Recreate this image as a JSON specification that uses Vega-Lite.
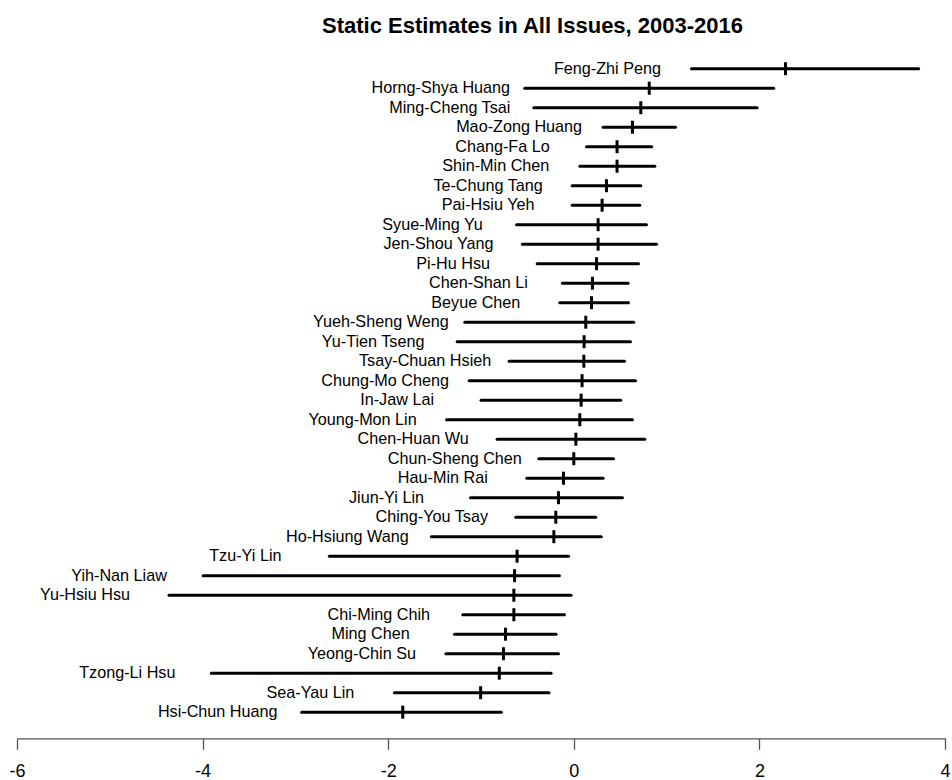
{
  "$schema": "https://vega.github.io/schema/vega-lite/v6.json",
  "autosize": "none",
  "width": 928,
  "height": 682.5,
  "padding": {"left": 17, "top": 49.2, "right": 7, "bottom": 48.3},
  "background": "white",
  "title": {
    "text": "Static Estimates in All Issues, 2003-2016",
    "font": "Liberation Sans",
    "fontSize": 22,
    "fontWeight": "bold",
    "color": "black",
    "anchor": "middle",
    "dx": 51.5,
    "dy": 15.6,
    "offset": 10,
    "baseline": "alphabetic"
  },
  "config": {"view": {"stroke": null}, "font": "Liberation Sans"},
  "data": {
    "values": [
      {"name": "Feng-Zhi Peng", "lower": 1.268, "est": 2.281, "upper": 3.716},
      {"name": "Horng-Shya Huang", "lower": -0.528, "est": 0.813, "upper": 2.154},
      {"name": "Ming-Cheng Tsai", "lower": -0.431, "est": 0.722, "upper": 1.975},
      {"name": "Mao-Zong Huang", "lower": 0.316, "est": 0.632, "upper": 1.096},
      {"name": "Chang-Fa Lo", "lower": 0.137, "est": 0.466, "upper": 0.840},
      {"name": "Shin-Min Chen", "lower": 0.065, "est": 0.466, "upper": 0.873},
      {"name": "Te-Chung Tang", "lower": -0.018, "est": 0.352, "upper": 0.722},
      {"name": "Pai-Hsiu Yeh", "lower": -0.018, "est": 0.305, "upper": 0.711},
      {"name": "Syue-Ming Yu", "lower": -0.617, "est": 0.262, "upper": 0.783},
      {"name": "Jen-Shou Yang", "lower": -0.553, "est": 0.262, "upper": 0.891},
      {"name": "Pi-Hu Hsu", "lower": -0.395, "est": 0.245, "upper": 0.697},
      {"name": "Chen-Shan Li", "lower": -0.122, "est": 0.201, "upper": 0.585},
      {"name": "Beyue Chen", "lower": -0.151, "est": 0.191, "upper": 0.589},
      {"name": "Yueh-Sheng Weng", "lower": -1.174, "est": 0.129, "upper": 0.646},
      {"name": "Yu-Tien Tseng", "lower": -1.257, "est": 0.111, "upper": 0.611},
      {"name": "Tsay-Chuan Hsieh", "lower": -0.697, "est": 0.108, "upper": 0.546},
      {"name": "Chung-Mo Cheng", "lower": -1.128, "est": 0.089, "upper": 0.665},
      {"name": "In-Jaw Lai", "lower": -0.999, "est": 0.079, "upper": 0.506},
      {"name": "Young-Mon Lin", "lower": -1.371, "est": 0.065, "upper": 0.632},
      {"name": "Chen-Huan Wu", "lower": -0.826, "est": 0.022, "upper": 0.765},
      {"name": "Chun-Sheng Chen", "lower": -0.377, "est": 0.0, "upper": 0.428},
      {"name": "Hau-Min Rai", "lower": -0.506, "est": -0.111, "upper": 0.316},
      {"name": "Jiun-Yi Lin", "lower": -1.113, "est": -0.165, "upper": 0.525},
      {"name": "Ching-You Tsay", "lower": -0.625, "est": -0.194, "upper": 0.237},
      {"name": "Ho-Hsiung Wang", "lower": -1.535, "est": -0.215, "upper": 0.296},
      {"name": "Tzu-Yi Lin", "lower": -2.634, "est": -0.611, "upper": -0.057},
      {"name": "Yih-Nan Liaw", "lower": -3.995, "est": -0.638, "upper": -0.155},
      {"name": "Yu-Hsiu Hsu", "lower": -4.362, "est": -0.646, "upper": -0.030},
      {"name": "Chi-Ming Chih", "lower": -1.196, "est": -0.646, "upper": -0.101},
      {"name": "Ming Chen", "lower": -1.285, "est": -0.736, "upper": -0.191},
      {"name": "Yeong-Chin Su", "lower": -1.379, "est": -0.758, "upper": -0.165},
      {"name": "Tzong-Li Hsu", "lower": -3.906, "est": -0.803, "upper": -0.245},
      {"name": "Sea-Yau Lin", "lower": -1.933, "est": -1.004, "upper": -0.267},
      {"name": "Hsi-Chun Huang", "lower": -2.932, "est": -1.843, "upper": -0.781}
    ]
  },
  "encoding": {
    "y": {"field": "name", "type": "nominal", "sort": null, "scale": {"type": "point", "padding": 1}, "axis": null}
  },
  "layer": [
    {
      "mark": {"type": "rule", "strokeWidth": 3, "color": "black", "strokeCap": "round"},
      "encoding": {
        "x": {
          "field": "lower",
          "type": "quantitative",
          "scale": {"domain": [-6, 4], "nice": false, "zero": false},
          "axis": {
            "values": [-6, -4, -2, 0, 2, 4],
            "title": null,
            "grid": false,
            "offset": 6.6,
            "domainColor": "#555555",
            "tickColor": "#555555",
            "domainWidth": 1.3,
            "tickWidth": 1.3,
            "tickSize": 11,
            "labelFont": "Liberation Sans",
            "labelFontSize": 18,
            "labelColor": "black",
            "labelPadding": 13,
            "labelExpr": "datum.value + ''",
            "labelFlush": false,
            "labelOverlap": false
          }
        },
        "x2": {"field": "upper"}
      }
    },
    {
      "mark": {"type": "tick", "color": "black", "opacity": 1, "thickness": 3, "size": 13, "orient": "vertical"},
      "encoding": {"x": {"field": "est", "type": "quantitative"}}
    },
    {
      "mark": {"type": "text", "align": "center", "baseline": "middle", "dx": -84, "dy": 0, "fontSize": 16.2, "color": "black", "font": "Liberation Sans"},
      "encoding": {"x": {"field": "lower", "type": "quantitative"}, "text": {"field": "name"}}
    }
  ]
}
